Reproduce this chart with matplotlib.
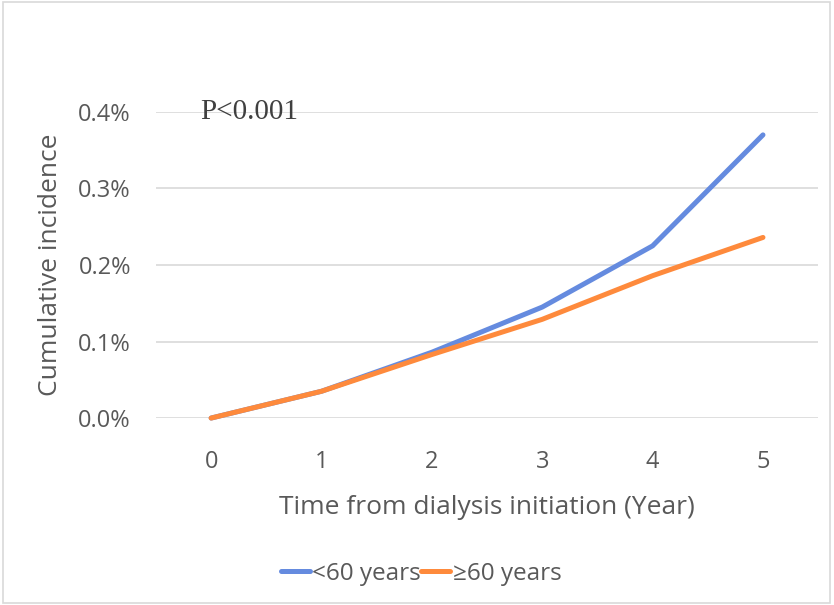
import matplotlib
matplotlib.use("Agg")
import matplotlib.pyplot as plt
from matplotlib.patches import Rectangle

years = [0, 1, 2, 3, 4, 5]
under60 = [0.000, 0.035, 0.086, 0.145, 0.225, 0.370]
over60 = [0.000, 0.035, 0.083, 0.129, 0.186, 0.236]
yticks = [0.0, 0.1, 0.2, 0.3, 0.4]
ytick_labels = ["0.0%", "0.1%", "0.2%", "0.3%", "0.4%"]
labels = ["<60 years", "\u226560 years"]

plt.rcParams['font.family'] = ['Open Sans', 'DejaVu Sans']
txt = '#595959'

fig = plt.figure(figsize=(8.34, 6.05), dpi=100)
fig.patches.append(Rectangle((0.004, 0.003), 0.991, 0.993, transform=fig.transFigure,
                             fill=False, edgecolor='#d9d9d9', linewidth=1.2))
ax = fig.add_axes([0.187, 0.309, 0.794, 0.506])

blue = '#658BDF'
orange = '#FE8A3C'
ax.plot(years, under60, color=blue, lw=3.6, solid_capstyle='round', solid_joinstyle='round',
        label=labels[0], clip_on=False, zorder=3)
ax.plot(years, over60, color=orange, lw=3.6, solid_capstyle='round', solid_joinstyle='round',
        label=labels[1], clip_on=False, zorder=4)

ax.set_xlim(-0.5, 5.5)
ax.set_ylim(0, 0.4)
ax.set_xticks(years)
ax.set_yticks(yticks)
ax.set_yticklabels(ytick_labels)
ax.grid(axis='y', color='#d9d9d9', lw=1.2)
ax.set_axisbelow(True)
for s in ax.spines.values():
    s.set_visible(False)
ax.tick_params(length=0, labelsize=17, colors=txt)
ax.tick_params(axis='y', pad=18)
ax.tick_params(axis='x', pad=23)

ax.set_xlabel("Time from dialysis initiation (Year)", fontsize=19, color=txt, labelpad=15)
ax.set_ylabel("Cumulative incidence", fontsize=19, color=txt, labelpad=11)

ax.text(-0.1, 0.4, "P<0.001", family='Liberation Serif', fontsize=21, color='#404040',
        va='center', ha='left')

leg = fig.legend(loc='center', bbox_to_anchor=(0.505, 0.052), ncol=2, frameon=False,
                 fontsize=17.5, handlelength=1.2, columnspacing=0.0, handletextpad=0.1)
for t in leg.get_texts():
    t.set_color(txt)

fig.savefig("out.png", dpi=100)
